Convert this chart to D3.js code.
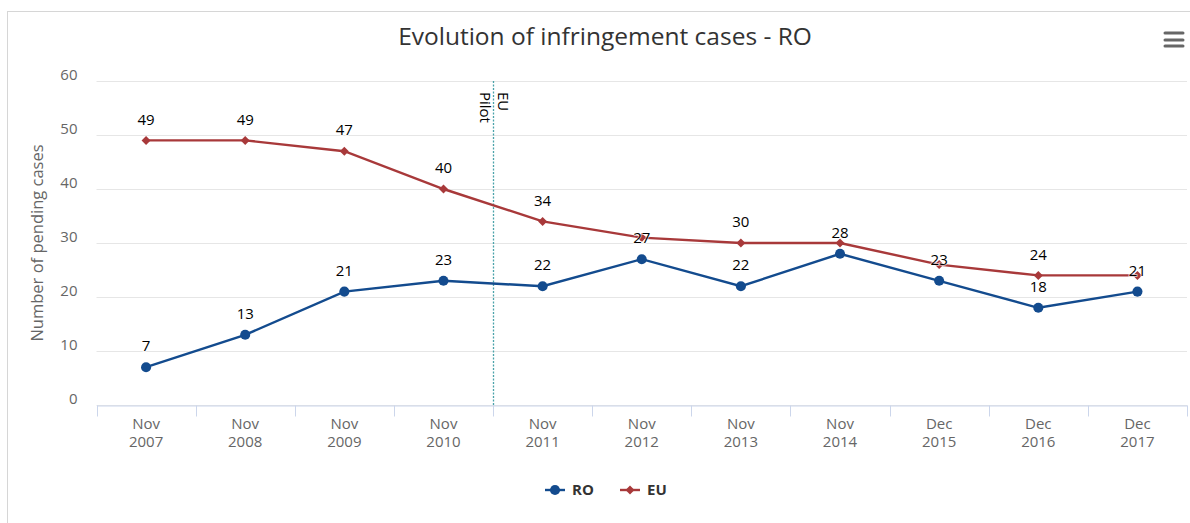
<!DOCTYPE html>
<html>
<head>
<meta charset="utf-8">
<script src="https://cdn.jsdelivr.net/npm/d3@7"></script>
<style>
  body { margin: 0; background: #fff; }
  svg { display: block; font-family: "Open Sans", "Segoe UI", sans-serif; }
</style>
</head>
<body>
<div id="chart"></div>
<script>
// chart data
var categories = ['Nov 2007', 'Nov 2008', 'Nov 2009', 'Nov 2010', 'Nov 2011', 'Nov 2012',
                  'Nov 2013', 'Nov 2014', 'Dec 2015', 'Dec 2016', 'Dec 2017'];
var roValues = [7, 13, 21, 23, 22, 27, 22, 28, 23, 18, 21];
var euValues = [49, 49, 47, 40, 34, 31, 30, 30, 26, 24, 24];
var yTicks = [0, 10, 20, 30, 40, 50, 60];
var pilotAt = 3.5; // between Nov 2010 and Nov 2011
var pilotLabel = ['EU', 'Pilot'];

var width = 1190, height = 523;
var margin = {top: 81, right: 3, bottom: 118, left: 96.5};

var svg = d3.select('#chart').append('svg')
  .attr('width', width)
  .attr('height', height);

// outer border of the chart box
svg.append('rect')
  .attr('x', 7.5).attr('y', 11.5)
  .attr('width', width).attr('height', height)
  .attr('fill', 'none')
  .attr('stroke', '#d6d6d6');

// Title
svg.append('text')
  .attr('x', 605).attr('y', 45)
  .attr('text-anchor', 'middle')
  .style('font-size', '24.5px')
  .style('fill', '#333')
  .text('Evolution of infringement cases - RO');

// burger menu
[33, 40, 46].forEach(function (y) {
  svg.append('line')
    .attr('x1', 1165).attr('x2', 1183)
    .attr('y1', y).attr('y2', y)
    .attr('stroke', '#666')
    .attr('stroke-width', 3)
    .attr('stroke-linecap', 'round');
});

var x = d3.scaleBand()
  .domain(categories)
  .range([margin.left, width - margin.right]);
var y = d3.scaleLinear()
  .domain([0, 60])
  .range([height - margin.bottom, margin.top]);
var cx = function (i) { return x(categories[i]) + x.bandwidth() / 2; };

// gridlines
svg.append('g')
  .selectAll('line')
  .data(yTicks)
  .join('line')
    .attr('x1', margin.left).attr('x2', width - margin.right)
    .attr('y1', function (d) { return Math.round(y(d)) + 0.5; })
    .attr('y2', function (d) { return Math.round(y(d)) + 0.5; })
    .attr('stroke', '#e6e6e6');

// y axis labels
var yAxis = svg.append('g')
  .attr('transform', 'translate(' + margin.left + ',0)')
  .call(d3.axisLeft(y).tickValues(yTicks).tickSize(0).tickPadding(19));
yAxis.select('.domain').remove();
yAxis.selectAll('text')
  .attr('dy', '-0.1em')
  .style('font-family', '"Open Sans", sans-serif')
  .style('font-size', '15px')
  .style('fill', '#666');

svg.append('text')
  .attr('transform', 'translate(43,' + y(30) + ') rotate(-90)')
  .attr('text-anchor', 'middle')
  .style('font-size', '16.5px')
  .style('fill', '#666')
  .text('Number of pending cases');

// x axis
var xAxis = svg.append('g')
  .attr('transform', 'translate(0,' + (y(0) + 0.5) + ')')
  .call(d3.axisBottom(x).tickSize(0).tickFormat(''));
xAxis.select('.domain').attr('stroke', '#ccd6eb');
xAxis.append('g')
  .selectAll('line')
  .data(d3.range(categories.length + 1))
  .join('line')
    .attr('x1', function (i) { return Math.round(margin.left + i * x.bandwidth()) + 0.5; })
    .attr('x2', function (i) { return Math.round(margin.left + i * x.bandwidth()) + 0.5; })
    .attr('y1', 0).attr('y2', 11)
    .attr('stroke', '#ccd6eb');
var xl = svg.append('g')
  .selectAll('text')
  .data(categories)
  .join('text')
    .attr('x', function (d, i) { return cx(i); })
    .attr('y', y(0) + 24)
    .attr('text-anchor', 'middle')
    .style('font-size', '15px')
    .style('fill', '#666');
xl.append('tspan').attr('x', function (d, i) { return cx(i); })
  .text(function (d) { return d.split(' ')[0]; });
xl.append('tspan').attr('x', function (d, i) { return cx(i); }).attr('dy', 18)
  .text(function (d) { return d.split(' ')[1]; });

// EU Pilot plot line (value in category units, 0 = first category centre)
var px = Math.round(cx(0) + pilotAt * x.bandwidth()) + 0.5;
svg.append('line')
  .attr('x1', px).attr('x2', px)
  .attr('y1', y(60)).attr('y2', y(0))
  .attr('stroke', '#4aa3aa')
  .attr('stroke-width', 1.3)
  .attr('stroke-dasharray', '2,1.5');
var pl = svg.append('text')
  .attr('transform', 'translate(' + (px + 4) + ',' + (y(60) + 11) + ') rotate(90)')
  .style('font-size', '15px')
  .style('fill', '#000');
pilotLabel.forEach(function (t, i) {
  pl.append('tspan').attr('x', 0).attr('dy', i === 0 ? 0 : 18).text(t);
});

// series
var series = [
  {name: 'RO', values: roValues, color: '#134b8e', marker: 'circle'},
  {name: 'EU', values: euValues, color: '#a8393a', marker: 'diamond'}
];
var line = d3.line()
  .x(function (d, i) { return cx(i); })
  .y(function (d) { return y(d); });
var symbolOf = function (m) {
  if (m === 'circle') return d3.symbol(d3.symbolCircle, 80)();
  return 'M0,-4.5L4.5,0L0,4.5L-4.5,0Z';
};

series.slice().reverse().forEach(function (s) {
  var g = svg.append('g');
  g.append('path')
    .attr('d', line(s.values))
    .attr('fill', 'none')
    .attr('stroke', s.color)
    .attr('stroke-width', 2.4);
  g.selectAll('path.pt')
    .data(s.values)
    .join('path')
      .attr('class', 'pt')
      .attr('transform', function (d, i) { return 'translate(' + cx(i) + ',' + y(d) + ')'; })
      .attr('d', symbolOf(s.marker))
      .attr('fill', s.color);
});

// data labels, hide overlapping ones (RO has priority)
var placed = [];
var labelLayer = svg.append('g');
series.forEach(function (s) {
  s.values.forEach(function (v, i) {
    var lx = cx(i), ly = y(v) - 21;
    var box = {x0: lx - 14, x1: lx + 14, y0: ly - 12.5, y1: ly + 12.5};
    var hit = placed.some(function (b) {
      return b.x0 < box.x1 && box.x0 < b.x1 && b.y0 < box.y1 && box.y0 < b.y1;
    });
    if (hit) return;
    placed.push(box);
    labelLayer.append('text')
      .attr('x', lx).attr('y', ly)
      .attr('text-anchor', 'middle')
      .attr('dy', '0.35em')
      .style('font-size', '15px')
      .style('fill', '#000')
      .style('paint-order', 'stroke')
      .style('stroke', '#fff')
      .style('stroke-width', '2px')
      .style('stroke-opacity', 0.6)
      .text(v);
  });
});

// legend
var legend = svg.append('g');
var lx0 = [545, 620];
series.forEach(function (s, k) {
  var g = legend.append('g').attr('transform', 'translate(' + lx0[k] + ',490)');
  g.append('line').attr('x1', 0).attr('x2', 20).attr('y1', 0).attr('y2', 0)
    .attr('stroke', s.color).attr('stroke-width', 2.4);
  g.append('path').attr('transform', 'translate(10,0)')
    .attr('d', symbolOf(s.marker)).attr('fill', s.color);
  g.append('text').attr('x', 27).attr('dy', '0.35em')
    .style('font-size', '15px').style('font-weight', 'bold').style('fill', '#333')
    .text(s.name);
});
</script>
</body>
</html>
